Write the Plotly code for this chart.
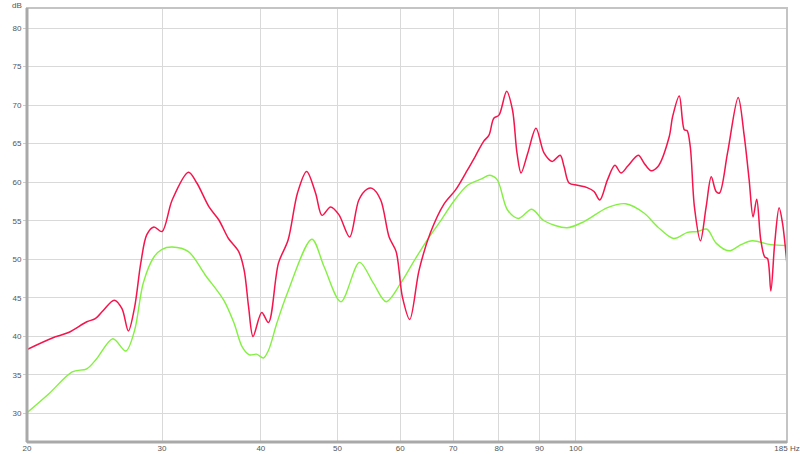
import math
import plotly.graph_objects as go

# Red curve (frequency in Hz, level in dB)
red_freq = [20.25, 21.8, 22.85, 24.1, 24.7, 25.3, 26.1, 26.7, 27.2, 27.7, 28.2, 28.7, 29.3, 30.0,
            30.9, 32.4, 33.2, 34.4, 35.4, 36.4, 37.5, 38.1, 38.6, 39.1, 40.1, 40.9, 42.1, 43.3,
            44.5, 45.7, 46.9, 47.8, 49.0, 50.2, 51.8, 53.2, 54.5, 55.3, 56.7, 58.1, 59.3, 60.4,
            61.7, 63.4, 65.5, 68.1, 70.5, 73.0, 74.7, 76.5, 77.7, 78.8, 80.0, 81.8, 83.2, 84.3,
            85.3, 87.0, 89.1, 91.2, 93.4, 95.6, 96.7, 98.1, 100.5, 103.4, 105.5, 107.3, 109.7,
            112.1, 114.1, 116.4, 120.0, 122.0, 124.5, 127.0, 131.3, 132.6, 135.2, 137.2, 138.3,
            139.6, 141.3, 143.8, 146.2, 148.4, 150.5, 152.0, 155.6, 160.5, 163.3, 165.7, 167.6,
            169.4, 171.4, 173.4, 174.8, 176.5, 178.5, 180.8, 182.6, 185.0]
red_db = [38.3, 39.8, 40.5, 41.9, 42.3, 43.4, 44.7, 43.6, 40.7, 43.8, 49.5, 53.2, 54.2, 53.6,
          57.7, 61.3, 59.9, 56.8, 55.1, 52.7, 51.0, 48.6, 43.8, 40.0, 43.1, 41.8, 49.5, 52.5,
          58.6, 61.4, 58.6, 55.7, 56.8, 55.8, 52.9, 57.7, 59.1, 59.2, 57.7, 52.9, 51.0, 45.1,
          42.2, 48.6, 53.4, 57.1, 59.0, 61.6, 63.4, 65.3, 66.1, 68.3, 68.7, 71.8, 69.4, 63.8,
          61.2, 63.8, 67.0, 63.8, 62.7, 63.5, 62.0, 59.9, 59.6, 59.3, 58.8, 57.7, 60.3,
          62.2, 61.2, 62.1, 63.5, 62.5, 61.5, 62.0, 65.9, 68.5, 71.2, 66.8, 66.7,
          64.6, 56.8, 52.4, 56.8, 60.7, 58.8, 58.6, 63.8, 71.0, 66.1, 60.3, 55.5,
          57.8, 52.5, 50.3, 50.1, 45.9, 52.1, 56.7, 54.7, 49.3]

# Green curve
green_freq = [20.25, 21.6, 23.1, 24.1, 24.8, 26.0, 27.0, 27.7, 28.4, 29.3, 30.0, 30.9, 32.4,
              34.0, 35.9, 37.0, 37.9, 38.7, 39.5, 40.3, 40.9, 41.9, 43.2, 46.4, 48.1, 50.5,
              53.3, 55.5, 57.6, 60.1, 62.4, 64.9, 67.4, 70.1, 73.0, 75.9, 77.9, 79.6, 82.0,
              84.7, 88.0, 91.2, 97.5, 102.5, 109.7, 115.7, 122.0, 127.0, 133.0, 138.5, 142.5,
              146.6, 150.5, 156.3, 161.8, 167.3, 176.5, 185.0]
green_db = [30.1, 32.6, 35.4, 35.8, 37.1, 39.7, 38.1, 40.8, 46.9, 50.3, 51.3, 51.6, 51.0,
            48.0, 44.7, 41.7, 38.6, 37.6, 37.7, 37.2, 38.2, 41.7, 45.6, 52.6, 49.0, 44.5,
            49.6, 46.9, 44.5, 46.9, 49.7, 52.5, 54.9, 57.5, 59.6, 60.4, 60.9, 60.3, 56.4,
            55.3, 56.5, 55.0, 54.1, 54.9, 56.7, 57.2, 56.0, 54.2, 52.7, 53.5, 53.6,
            53.9, 52.1, 51.1, 51.9, 52.4, 51.9, 51.8]

x_tick_vals = [20.25, 30, 40, 50, 60, 70, 80, 90, 100, 185]
x_tick_text = ["20", "30", "40", "50", "60", "70", "80", "90", "100", "185 Hz"]
y_tick_vals = [30, 35, 40, 45, 50, 55, 60, 65, 70, 75, 80]

fig = go.Figure()
fig.add_trace(go.Scatter(x=green_freq, y=green_db, mode="lines",
                         line=dict(color="#84f041", width=1.4, shape="spline", smoothing=0.9),
                         showlegend=False))
fig.add_trace(go.Scatter(x=red_freq, y=red_db, mode="lines",
                         line=dict(color="#f5144b", width=1.5, shape="spline", smoothing=0.9),
                         showlegend=False))

font = dict(family="Liberation Sans", size=8, color="#555")
fig.update_layout(
    width=800, height=454,
    margin=dict(l=27, r=13, t=8, b=12),
    paper_bgcolor="white", plot_bgcolor="white",
    font=font,
    xaxis=dict(type="log", range=[math.log10(20.25), math.log10(185)],
               tickvals=x_tick_vals, ticktext=x_tick_text,
               showgrid=True, gridcolor="#d9d9d9", gridwidth=1,
               zeroline=False, showline=False, ticks="", ticklen=0,
               ticklabeloverflow="allow",
               tickfont=font, automargin=False),
    yaxis=dict(range=[26.3, 82.6], tickvals=y_tick_vals,
               showgrid=True, gridcolor="#d9d9d9", gridwidth=1,
               zeroline=False, showline=False, ticks="outside", ticklen=3,
               tickcolor="#cccccc", tickfont=font, automargin=False),
    shapes=[
        dict(type="rect", xref="paper", yref="paper", x0=0, x1=1, y0=0, y1=1,
             line=dict(color="#c4c4c4", width=2), fillcolor="rgba(0,0,0,0)"),
        dict(type="line", xref="paper", yref="paper", x0=0, x1=0, y0=0, y1=1,
             line=dict(color="#a9a9a9", width=3)),
        dict(type="line", xref="paper", yref="paper", x0=0, x1=1, y0=0, y1=0,
             line=dict(color="#a9a9a9", width=3)),
    ],
    annotations=[
        dict(text="dB", xref="paper", yref="paper", x=0, y=1, xanchor="right",
             yanchor="top", xshift=-4, yshift=8, borderpad=0, showarrow=False, font=font),
    ],
)

fig.write_html("out.html", config={"displayModeBar": False},
               post_script="document.body.style.margin='0';document.body.style.overflow='hidden';")
